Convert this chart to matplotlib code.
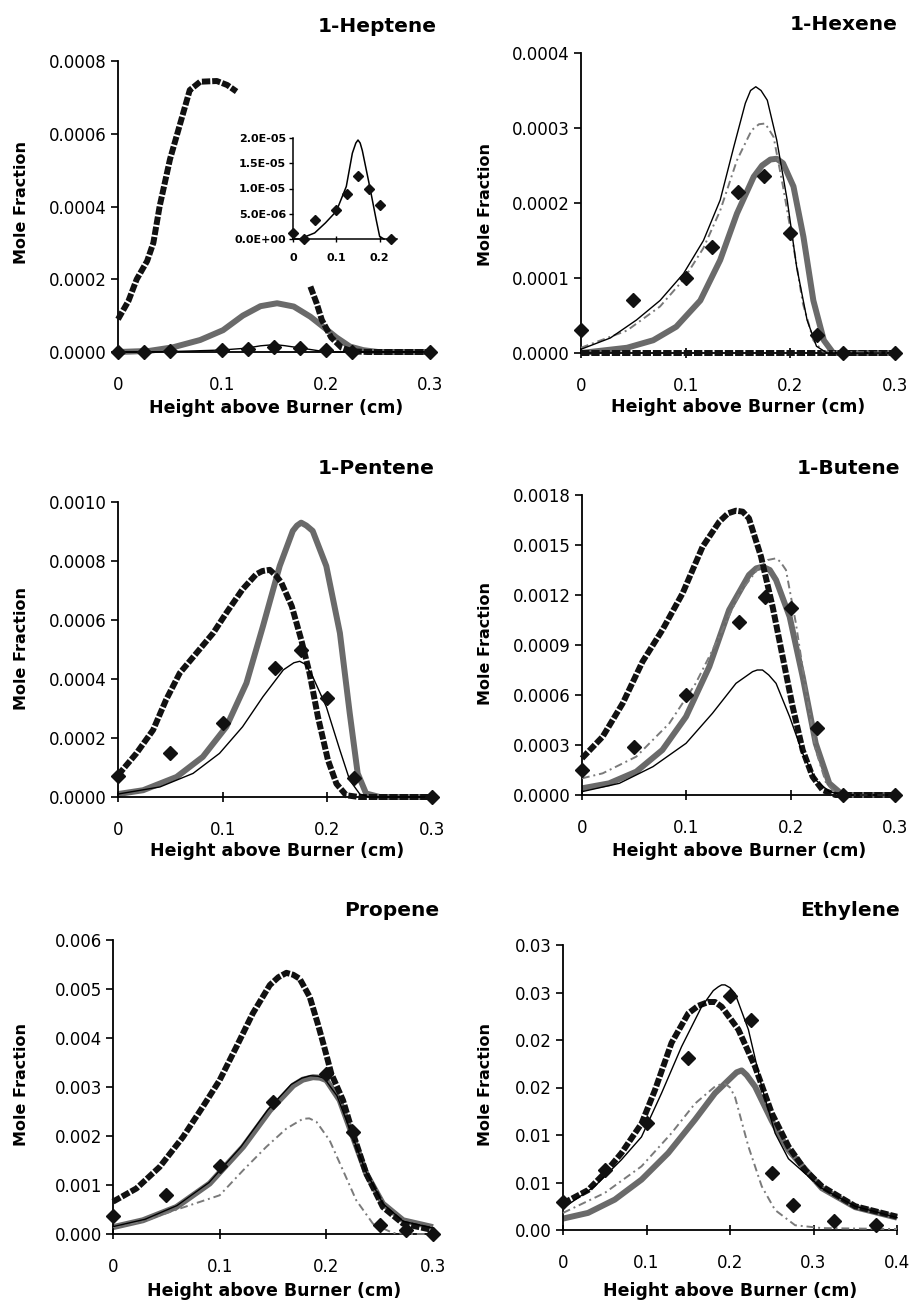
import numpy as np
import matplotlib
matplotlib.use("Agg")
import matplotlib.pyplot as plt

W, H = 909, 1300
plt.rcParams['font.family'] = 'DejaVu Sans'
nan = np.nan

################## Data #################
# 1-Heptene
hep_sq_x = [0, 0.01, 0.018, 0.028, 0.034, 0.04, 0.05, 0.06, 0.069, 0.079, 0.095, 0.105, 0.114, nan,
            0.185, 0.191, 0.196, 0.205, 0.215, 0.225, 0.24, 0.3]
hep_sq_y = [0.00009, 0.00014, 0.0002, 0.00025, 0.0003, 0.0004, 0.00053, 0.00063, 0.00072, 0.000743, 0.000745,
            0.000734, 0.000716, nan, 0.00018, 0.000134, 0.000088, 0.00004, 0.000012, 0.000002, 0, 0]
hep_gray_x = [0, 0.03, 0.053, 0.079, 0.101, 0.12, 0.137, 0.153, 0.169, 0.185, 0.197, 0.21, 0.223, 0.236, 0.25, 0.3]
hep_gray_y = [0, 0.000003, 0.000013, 0.000033, 0.00006, 0.0001, 0.000126, 0.000134, 0.000125, 0.000097,
              0.00007, 0.00004, 0.000015, 0.000005, 0, 0]
hep_thin_x = [0, 0.015, 0.05, 0.075, 0.1, 0.123, 0.137, 0.145, 0.15, 0.155, 0.16, 0.177, 0.192, 0.2, 0.21, 0.3]
hep_thin_y = [0, 0, 1.2e-6, 3.2e-6, 5.5e-6, 1.04e-5, 1.7e-5, 1.9e-5, 1.96e-5, 1.9e-5, 1.75e-5, 1.04e-5,
              3.8e-6, 5e-7, 0, 0]
hep_exp_x = [0, 0.025, 0.05, 0.1, 0.125, 0.15, 0.175, 0.2, 0.225, 0.3]
hep_exp_y = [1.1e-6, 0, 3.8e-6, 5.8e-6, 8.9e-6, 1.25e-5, 1.0e-5, 6.7e-6, 0, 0]

# 1-Hexene
hex_sq_x = [0, 0.3]
hex_sq_y = [0, 0]
hex_gray_x = [0, 0.044, 0.069, 0.091, 0.114, 0.133, 0.149, 0.165, 0.173, 0.181, 0.187, 0.193, 0.203, 0.2125,
              0.222, 0.232, 0.241, 0.3]
hex_gray_y = [0, 0.000007, 0.000017, 0.000035, 0.00007, 0.000124, 0.000186, 0.000235, 0.00025, 0.000258,
              0.000259, 0.000253, 0.000222, 0.000155, 0.00007, 0.000017, 0, 0]
hex_thin_x = [0, 0.028, 0.053, 0.0755, 0.098, 0.117, 0.133, 0.146, 0.157, 0.162, 0.167, 0.172, 0.178, 0.187,
              0.197, 0.206, 0.216, 0.225, 0.235, 0.3]
hex_thin_y = [0.000005, 0.00002, 0.000044, 0.00007, 0.000106, 0.00015, 0.000204, 0.000275, 0.000333, 0.00035,
              0.000355, 0.00035, 0.000337, 0.000284, 0.000204, 0.000115, 0.000044, 0.000009, 0, 0]
hex_dd_x = [0, 0.044, 0.0755, 0.098, 0.117, 0.133, 0.149, 0.163, 0.17, 0.176, 0.184, 0.193, 0.203, 0.212, 0.222,
            0.231, 0.3]
hex_dd_y = [0.000007, 0.00003, 0.000062, 0.000098, 0.00014, 0.00019, 0.000257, 0.000297, 0.000305, 0.000306,
            0.000288, 0.000222, 0.000142, 0.000066, 0.000017, 0.000002, 0]
hex_exp_x = [0, 0.05, 0.1, 0.125, 0.15, 0.175, 0.2, 0.225, 0.25, 0.3]
hex_exp_y = [0.000031, 0.00007, 0.0001, 0.000141, 0.000215, 0.000236, 0.00016, 0.000024, 0, 0]

# 1-Pentene
pen_sq_x = [0, 0.0176, 0.0335, 0.046, 0.059, 0.075, 0.091, 0.1035, 0.119, 0.132, 0.138, 0.145, 0.151, 0.156,
            0.166, 0.175, 0.183, 0.191, 0.2006, 0.2087, 0.218, 0.23, 0.3]
pen_sq_y = [0.000074, 0.000148, 0.000227, 0.00033, 0.00042, 0.000488, 0.000556, 0.000624, 0.000704, 0.000755,
            0.000766, 0.00077, 0.00075, 0.000727, 0.000647, 0.000534, 0.00042, 0.000272, 0.000125, 0.000045,
            0.000006, 0, 0]
pen_gray_x = [0, 0.024, 0.056, 0.081, 0.1035, 0.1227, 0.1385, 0.1545, 0.167, 0.171, 0.175, 0.18, 0.186, 0.199,
              0.212, 0.2214, 0.229, 0.237, 0.25, 0.3]
pen_gray_y = [0.00001, 0.000023, 0.000068, 0.000136, 0.000238, 0.000386, 0.000579, 0.000783, 0.000902, 0.00092,
              0.00093, 0.00092, 0.000902, 0.000783, 0.000556, 0.000284, 0.00008, 0.000012, 0, 0]
pen_thin_x = [0, 0.04, 0.0717, 0.097, 0.119, 0.1385, 0.158, 0.168, 0.1736, 0.179, 0.186, 0.199, 0.212, 0.2214,
              0.231, 0.24, 0.3]
pen_thin_y = [0.00001, 0.000034, 0.00008, 0.000148, 0.000238, 0.00034, 0.000431, 0.000455, 0.00046, 0.00045,
              0.000408, 0.000306, 0.000159, 0.000057, 0.00001, 0, 0]
pen_exp_x = [0, 0.05, 0.1, 0.15, 0.175, 0.2, 0.225, 0.3]
pen_exp_y = [0.00007, 0.000148, 0.00025, 0.000437, 0.0005, 0.000335, 0.000063, 0]

# 1-Butene
but_sq_x = [0, 0.0198, 0.039, 0.058, 0.077, 0.0964, 0.1156, 0.1316, 0.14, 0.1476, 0.154, 0.16, 0.1716, 0.1827,
            0.1923, 0.2019, 0.2115, 0.221, 0.2306, 0.243, 0.3]
but_sq_y = [0.00022, 0.00035, 0.00055, 0.0008, 0.00099, 0.00121, 0.00149, 0.00164, 0.00169, 0.001706, 0.0017,
            0.00166, 0.00143, 0.00113, 0.00083, 0.00053, 0.00027, 0.00011, 0.00003, 0, 0]
but_gray_x = [0, 0.026, 0.052, 0.077, 0.0997, 0.122, 0.141, 0.16, 0.167, 0.173, 0.18, 0.186, 0.199, 0.2115, 0.224,
              0.237, 0.25, 0.3]
but_gray_y = [0.00004, 0.00007, 0.00014, 0.00027, 0.00047, 0.00077, 0.00111, 0.00132, 0.00136, 0.00137, 0.00135,
              0.00129, 0.00107, 0.00071, 0.00031, 0.00007, 0, 0]
but_dd_x = [0, 0.0198, 0.052, 0.0837, 0.109, 0.1316, 0.151, 0.17, 0.178, 0.186, 0.19, 0.1955, 0.205, 0.2147,
            0.224, 0.234, 0.245, 0.3]
but_dd_y = [0.0001, 0.00013, 0.00023, 0.00043, 0.00067, 0.00095, 0.00121, 0.00137, 0.00141, 0.00142, 0.0014,
            0.00135, 0.00103, 0.00063, 0.00027, 0.00007, 0, 0]
but_thin_x = [0, 0.0358, 0.068, 0.0997, 0.125, 0.1476, 0.1635, 0.168, 0.173, 0.179, 0.186, 0.199, 0.2115, 0.224,
              0.237, 0.25, 0.3]
but_thin_y = [0.00002, 0.00007, 0.00017, 0.00031, 0.00049, 0.00067, 0.00074, 0.00075, 0.00075, 0.00072,
              0.00067, 0.00047, 0.00025, 0.00009, 0.00002, 0, 0]
but_exp_x = [0, 0.05, 0.1, 0.15, 0.175, 0.2, 0.225, 0.25, 0.3]
but_exp_y = [0.00015, 0.00029, 0.0006, 0.00104, 0.00119, 0.00112, 0.0004, 0, 0]

# Propene
pro_sq_x = [0, 0.022, 0.0438, 0.0656, 0.084, 0.1, 0.1157, 0.131, 0.147, 0.155, 0.1626, 0.169, 0.175, 0.1844,
            0.192, 0.198, 0.2047, 0.2156, 0.225, 0.2375, 0.253, 0.272, 0.3]
pro_sq_y = [0.00066, 0.00093, 0.00137, 0.00198, 0.00259, 0.00314, 0.00382, 0.0045, 0.00508, 0.00524, 0.00533,
            0.00529, 0.00521, 0.00484, 0.00429, 0.00382, 0.00327, 0.00273, 0.00205, 0.00123, 0.00055, 0.00021,
            0.00008]
pro_gray_x = [0, 0.028, 0.0594, 0.0906, 0.122, 0.147, 0.169, 0.178, 0.1875, 0.194, 0.2, 0.2125, 0.225, 0.2375,
              0.253, 0.272, 0.3]
pro_gray_y = [0.00014, 0.00028, 0.00055, 0.00103, 0.00178, 0.00252, 0.00303, 0.00315, 0.0032, 0.00319, 0.00314,
              0.00273, 0.00198, 0.00123, 0.00062, 0.00028, 0.00014]
pro_thin_x = [0, 0.03, 0.06, 0.09, 0.12, 0.145, 0.167, 0.177, 0.185, 0.192, 0.198, 0.21, 0.223, 0.237, 0.253,
              0.272, 0.3]
pro_thin_y = [0.00015, 0.0003, 0.00058, 0.00105, 0.00178, 0.00253, 0.00305, 0.00318, 0.00323, 0.00322, 0.00318,
              0.00282, 0.00208, 0.00128, 0.00062, 0.00026, 0.00012]
pro_dd_x = [0, 0.03, 0.06, 0.1, 0.122, 0.1438, 0.1625, 0.178, 0.184, 0.1907, 0.2031, 0.2156, 0.228, 0.2437,
            0.2625, 0.28, 0.3]
pro_dd_y = [0.00014, 0.00027, 0.0005, 0.00079, 0.0013, 0.00178, 0.00215, 0.00235, 0.00236, 0.00229, 0.00191,
            0.0013, 0.00069, 0.00021, 0.00002, 0, 0]
pro_exp_x = [0, 0.05, 0.1, 0.15, 0.2, 0.225, 0.25, 0.275, 0.3]
pro_exp_y = [0.00036, 0.00079, 0.00138, 0.00269, 0.00327, 0.00208, 0.00018, 0.00008, 0]

# Ethylene
eth_sq_x = [0, 0.03, 0.05, 0.07, 0.094, 0.11, 0.13, 0.15, 0.162, 0.174, 0.182, 0.19, 0.21, 0.23, 0.25, 0.27,
            0.29, 0.31, 0.35, 0.4]
eth_sq_y = [0.0028, 0.0042, 0.006, 0.0081, 0.0112, 0.0147, 0.0197, 0.0228, 0.0236, 0.024, 0.024, 0.0235, 0.0211,
            0.0172, 0.0123, 0.0088, 0.0063, 0.0046, 0.0025, 0.0014]
eth_gray_x = [0, 0.03, 0.062, 0.094, 0.126, 0.158, 0.182, 0.202, 0.208, 0.214, 0.22, 0.23, 0.25, 0.27, 0.31,
              0.35, 0.4]
eth_gray_y = [0.0012, 0.0018, 0.0032, 0.0053, 0.0081, 0.0116, 0.0144, 0.0161, 0.0166, 0.0168, 0.0163, 0.0151,
              0.0115, 0.0084, 0.0044, 0.0024, 0.0013]
eth_thin_x = [0, 0.038, 0.07, 0.094, 0.118, 0.142, 0.166, 0.18, 0.186, 0.19, 0.194, 0.2, 0.206, 0.222, 0.238,
              0.254, 0.27, 0.31, 0.35, 0.4]
eth_thin_y = [0.0023, 0.0046, 0.0074, 0.0098, 0.0144, 0.0193, 0.0235, 0.0252, 0.0256, 0.0258, 0.0258, 0.0255,
              0.0249, 0.0211, 0.0151, 0.0102, 0.0075, 0.0044, 0.0025, 0.0013]
eth_dd_x = [0, 0.05, 0.094, 0.13, 0.158, 0.182, 0.188, 0.194, 0.2, 0.206, 0.222, 0.238, 0.254, 0.278, 0.31, 0.4]
eth_dd_y = [0.0018, 0.0039, 0.0067, 0.0102, 0.0133, 0.0151, 0.0153, 0.0154, 0.015, 0.014, 0.0088, 0.0046, 0.0021,
            0.0005, 0.0002, 0.0001]
eth_exp_x = [0, 0.05, 0.1, 0.15, 0.2, 0.225, 0.25, 0.275, 0.325, 0.375]
eth_exp_y = [0.0029, 0.0063, 0.0113, 0.0181, 0.0246, 0.0221, 0.006, 0.0026, 0.001, 0.0005]

# tick labels
x3_ticks = [0, 0.1, 0.2, 0.3]
x3_labels = ["0", "0.1", "0.2", "0.3"]
x4_ticks = [0, 0.1, 0.2, 0.3, 0.4]
x4_labels = ["0", "0.1", "0.2", "0.3", "0.4"]
hep_yt = [0, 0.0002, 0.0004, 0.0006, 0.0008]
hep_yl = ["0.0000", "0.0002", "0.0004", "0.0006", "0.0008"]
hex_yt = [0, 0.0001, 0.0002, 0.0003, 0.0004]
hex_yl = ["0.0000", "0.0001", "0.0002", "0.0003", "0.0004"]
pen_yt = [0, 0.0002, 0.0004, 0.0006, 0.0008, 0.001]
pen_yl = ["0.0000", "0.0002", "0.0004", "0.0006", "0.0008", "0.0010"]
but_yt = [0, 0.0003, 0.0006, 0.0009, 0.0012, 0.0015, 0.0018]
but_yl = ["0.0000", "0.0003", "0.0006", "0.0009", "0.0012", "0.0015", "0.0018"]
pro_yt = [0, 0.001, 0.002, 0.003, 0.004, 0.005, 0.006]
pro_yl = ["0.000", "0.001", "0.002", "0.003", "0.004", "0.005", "0.006"]
eth_yt = [0, 0.005, 0.01, 0.015, 0.02, 0.025, 0.03]
eth_yl = ["0.00", "0.01", "0.01", "0.02", "0.02", "0.03", "0.03"]
ins_yt = [0, 5e-6, 1e-5, 1.5e-5, 2e-5]
ins_yl = ["0.0E+00", "5.0E-06", "1.0E-05", "1.5E-05", "2.0E-05"]
ins_xt = [0, 0.1, 0.2]
ins_xl = ["0", "0.1", "0.2"]

################## Functions #################
fig = plt.figure(figsize=(W / 100, H / 100), dpi=100)


def box(l, t, r, b):
    """pixel box -> figure rect"""
    return [l / W, 1 - b / H, (r - l) / W, (b - t) / H]


def ftext(x, y, s, **kw):
    fig.text(x / W, 1 - y / H, s, **kw)


def panel(rect, xmax, ymax, xt, xl, yt, yl, sq=None, gray=None, thin=None, dd=None, exp=None):
    ax = fig.add_axes(rect)
    ax.patch.set_alpha(0)
    if gray:
        ax.plot(gray[0], gray[1], color='#6a6a6a', lw=4.3, clip_on=False, zorder=2,
                solid_capstyle='butt', solid_joinstyle='round')
    if sq:
        ax.plot(sq[0], sq[1], color='#111111', lw=4.3, linestyle=(0, (1.4, 0.32)),
                dash_capstyle='butt', clip_on=False, zorder=3)
    if dd:
        ax.plot(dd[0], dd[1], color='#7a7a7a', lw=1.4, linestyle=(0, (4, 2, 1, 2)),
                clip_on=False, zorder=4)
    if thin:
        ax.plot(thin[0], thin[1], color='black', lw=1.0, clip_on=False, zorder=4)
    if exp:
        ax.plot(exp[0], exp[1], 'D', color='#111111', ms=7, clip_on=False, zorder=6)
    ax.set_xlim(0, xmax)
    ax.set_ylim(0, ymax)
    ax.set_xticks(xt, xl)
    ax.set_yticks(yt, yl)
    ax.tick_params(axis='y', direction='out', length=5, width=1.2, labelsize=12, pad=3)
    ax.tick_params(axis='x', direction='inout', length=7, width=1.2, labelsize=12, pad=14)
    for s in ['top', 'right']:
        ax.spines[s].set_visible(False)
    for s in ['left', 'bottom']:
        ax.spines[s].set_linewidth(1.3)
    return ax


###################### Main code ###########################
panel(box(118, 61, 430, 352), 0.3, 0.0008, x3_ticks, x3_labels, hep_yt, hep_yl,
      sq=(hep_sq_x, hep_sq_y), gray=(hep_gray_x, hep_gray_y), thin=(hep_thin_x, hep_thin_y),
      exp=(hep_exp_x, hep_exp_y))
panel(box(581, 53, 895, 353), 0.3, 0.0004, x3_ticks, x3_labels, hex_yt, hex_yl,
      sq=(hex_sq_x, hex_sq_y), gray=(hex_gray_x, hex_gray_y), thin=(hex_thin_x, hex_thin_y),
      dd=(hex_dd_x, hex_dd_y), exp=(hex_exp_x, hex_exp_y))
panel(box(118, 502, 432, 797), 0.3, 0.001, x3_ticks, x3_labels, pen_yt, pen_yl,
      sq=(pen_sq_x, pen_sq_y), gray=(pen_gray_x, pen_gray_y), thin=(pen_thin_x, pen_thin_y),
      exp=(pen_exp_x, pen_exp_y))
panel(box(582, 495, 895, 795), 0.3, 0.0018, x3_ticks, x3_labels, but_yt, but_yl,
      sq=(but_sq_x, but_sq_y), gray=(but_gray_x, but_gray_y), thin=(but_thin_x, but_thin_y),
      dd=(but_dd_x, but_dd_y), exp=(but_exp_x, but_exp_y))
panel(box(113, 940, 433, 1234), 0.3, 0.006, x3_ticks, x3_labels, pro_yt, pro_yl,
      sq=(pro_sq_x, pro_sq_y), gray=(pro_gray_x, pro_gray_y), thin=(pro_thin_x, pro_thin_y),
      dd=(pro_dd_x, pro_dd_y), exp=(pro_exp_x, pro_exp_y))
panel(box(563, 945, 897, 1230), 0.4, 0.03, x4_ticks, x4_labels, eth_yt, eth_yl,
      sq=(eth_sq_x, eth_sq_y), gray=(eth_gray_x, eth_gray_y), thin=(eth_thin_x, eth_thin_y),
      dd=(eth_dd_x, eth_dd_y), exp=(eth_exp_x, eth_exp_y))

# inset of 1-Heptene (thin model line + experiment, zoomed)
axi = fig.add_axes(box(293, 138, 397, 239))
axi.patch.set_alpha(0)
tx = np.array(hep_thin_x)
ty = np.array(hep_thin_y)
ex = np.array(hep_exp_x)
ey = np.array(hep_exp_y)
axi.plot(tx[tx <= 0.24], ty[tx <= 0.24], color='black', lw=1.1, clip_on=False)
axi.plot(ex[ex <= 0.24], ey[ex <= 0.24], 'D', color='#111111', ms=5.5, clip_on=False, zorder=5)
axi.set_xlim(0, 0.24)
axi.set_ylim(0, 2e-5)
axi.set_xticks(ins_xt, ins_xl)
axi.set_yticks(ins_yt, ins_yl)
axi.tick_params(axis='y', direction='out', length=3, width=1, labelsize=8, pad=2)
axi.tick_params(axis='x', direction='inout', length=4, width=1, labelsize=8, pad=8)
for lab in axi.get_xticklabels() + axi.get_yticklabels():
    lab.set_fontweight('bold')
for s in ['top', 'right']:
    axi.spines[s].set_visible(False)
for s in ['left', 'bottom']:
    axi.spines[s].set_linewidth(1.1)

# titles, axis labels
titles = ["1-Heptene", "1-Hexene", "1-Pentene", "1-Butene", "Propene", "Ethylene"]
title_pos = [(437, 27), (898, 25), (435, 468), (900, 468), (439, 910), (900, 910)]
xlab_pos = [(276, 408), (738, 407), (277, 851), (739, 851), (274, 1291), (730, 1291)]
ylab_pos = [(22, 203), (485, 205), (22, 648), (485, 644), (22, 1085), (485, 1085)]
for i in range(6):
    ftext(title_pos[i][0], title_pos[i][1], titles[i], ha='right', va='center',
          fontsize=14.5, fontweight='bold')
    ftext(xlab_pos[i][0], xlab_pos[i][1], "Height above Burner (cm)", ha='center', va='center',
          fontsize=12.5, fontweight='bold')
    ftext(ylab_pos[i][0], ylab_pos[i][1], "Mole Fraction", ha='center', va='center',
          fontsize=11.5, fontweight='bold', rotation=90)

fig.savefig("out.png", dpi=100, facecolor='white')
